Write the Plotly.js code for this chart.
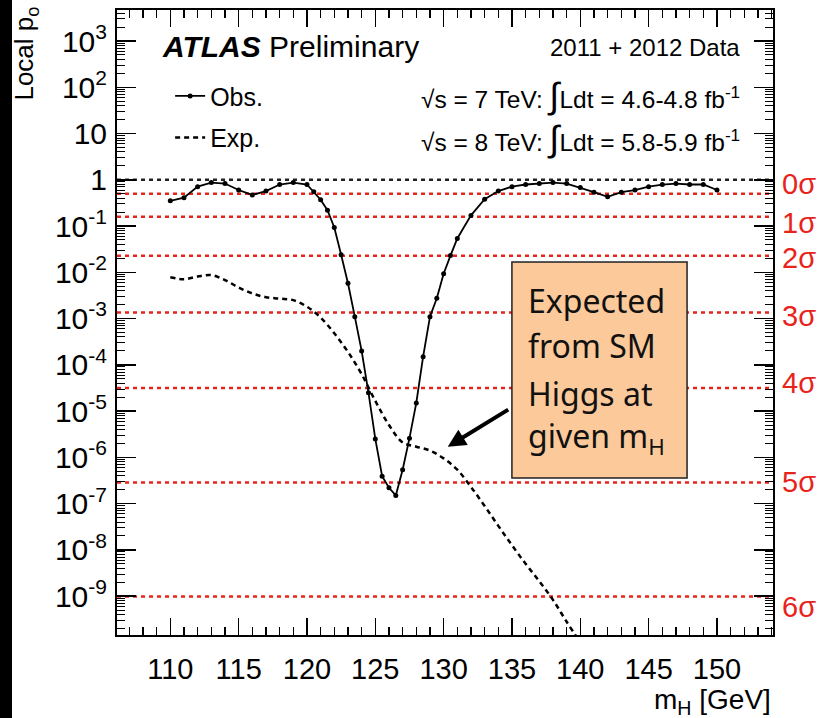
<!DOCTYPE html>
<html>
<head>
<meta charset="utf-8">
<script src="https://cdn.plot.ly/plotly-3.0.1.min.js"></script>
<style>
  html, body { margin: 0; padding: 0; }
  body { width: 821px; height: 718px; background: linear-gradient(to right, #000 12px, #fff 12px); }
  #chart { width: 821px; height: 718px; }
</style>
</head>
<body>
<div id="chart"></div>
<script>
// Observed local p0 versus Higgs mass hypothesis
const massObs = [110, 111, 112, 113, 114, 115, 116, 117, 118, 119, 120, 120.5, 121, 121.5, 122, 122.5,
  123, 123.5, 124, 124.5, 125, 125.5, 126, 126.5, 127, 127.5, 128, 128.5, 129, 129.5, 130, 130.5,
  131, 132, 133, 134, 135, 136, 137, 138, 139, 140, 141, 142, 143, 144, 145, 146, 147, 148, 149, 150];
const pObs = [0.35, 0.41, 0.71, 0.87, 0.83, 0.60, 0.47, 0.57, 0.79, 0.87, 0.79, 0.55, 0.37, 0.22, 0.093, 0.024,
  5.8e-3, 1.1e-3, 2.0e-4, 2.5e-5, 2.5e-6, 3.9e-7, 2.2e-7, 1.5e-7, 5.4e-7, 2.6e-6, 1.5e-5, 1.5e-4, 1.1e-3, 2.75e-3, 9.3e-3, 0.023,
  0.054, 0.17, 0.38, 0.57, 0.71, 0.79, 0.83, 0.87, 0.83, 0.68, 0.54, 0.43, 0.54, 0.60, 0.71, 0.79, 0.83, 0.79, 0.79, 0.60];

// Expected local p0 for a SM Higgs boson at each mass
const massExp = [110, 111, 112, 113, 114, 115, 116, 117, 118, 119, 120, 121, 122, 123, 124, 125,
  126, 127, 128, 129, 130, 131, 132, 133, 134, 135, 136, 137, 138, 139, 140];
const pExp = [7.8e-3, 7.1e-3, 8.1e-3, 8.7e-3, 6.8e-3, 4.7e-3, 3.5e-3, 2.9e-3, 2.7e-3, 2.5e-3, 1.8e-3, 1.05e-3, 4.8e-4, 1.9e-4, 6.3e-5, 1.66e-5,
  5.0e-6, 2.1e-6, 1.7e-6, 1.4e-6, 9.5e-7, 5.4e-7, 2.3e-7, 8.9e-8, 3.3e-8, 1.26e-8, 5.0e-9, 2.1e-9, 8.3e-10, 2.8e-10, 1.0e-10];

// One-sided significance levels and their p0 values
const sigmaLabels = ['0σ', '1σ', '2σ', '3σ', '4σ', '5σ', '6σ'];
const sigmaP = [0.5, 0.1587, 0.02275, 1.35e-3, 3.17e-5, 2.87e-7, 9.87e-10];

// y tick labels (decades)
const decadeExps = [-9, -8, -7, -6, -5, -4, -3, -2, -1, 0, 1, 2, 3];
const decadeText = ['10<sup>-9</sup>', '10<sup>-8</sup>', '10<sup>-7</sup>', '10<sup>-6</sup>', '10<sup>-5</sup>',
  '10<sup>-4</sup>', '10<sup>-3</sup>', '10<sup>-2</sup>', '10<sup>-1</sup>', '1', '10', '10<sup>2</sup>', '10<sup>3</sup>'];

const boxLines = ['Expected', 'from SM', 'Higgs at', 'given m<sub>H</sub>'];

const SANS = '"Liberation Sans", Arial, sans-serif';
const RED = '#e8231c';

const decadeVals = decadeExps.map(e => Math.pow(10, e));
const minorVals = [];
for (let e = -10; e <= 3; e++) for (let k = 2; k <= 9; k++) minorVals.push(k * Math.pow(10, e));

const traces = [
  {
    x: massObs, y: pObs, name: 'Obs.', type: 'scatter', mode: 'lines+markers',
    line: { color: '#000', width: 1.8 }, marker: { color: '#000', size: 5 },
    legendgroup: 'a'
  },
  {
    x: massExp, y: pExp, name: 'Exp.', type: 'scatter', mode: 'lines',
    line: { color: '#000', width: 2.5, dash: '5px,4px', shape: 'spline' },
    legendgroup: 'b'
  }
];

const shapes = [
  { type: 'line', xref: 'paper', x0: 0, x1: 1, yref: 'y', y0: 1, y1: 1,
    line: { color: '#222', width: 2.5, dash: '4px,4px' }, layer: 'below' }
].concat(sigmaP.map(p => ({
  type: 'line', xref: 'paper', x0: 0, x1: 1, yref: 'y', y0: p, y1: p,
  line: { color: RED, width: 2.5, dash: '4px,4px' }, layer: 'below'
})));

// text box
shapes.push({ type: 'rect', xref: 'paper', yref: 'paper', x0: 0.602, x1: 0.869, y0: 0.2512, y1: 0.5968,
  fillcolor: '#fbc99a', line: { color: '#222', width: 1.5 } });

const sigmaShift = [10, -6, -2, -3, 5, 0, -11];
const annotations = sigmaLabels.map((t, i) => ({
  text: t, xref: 'paper', x: 1, xshift: 7, xanchor: 'left', yref: 'y', y: Math.log10(sigmaP[i]),
  yshift: sigmaShift[i], yanchor: 'middle', showarrow: false,
  font: { family: SANS, size: 29, color: RED }
}));

const boxY = [0.536, 0.464, 0.387, 0.315];
boxLines.forEach((t, i) => annotations.push({
  text: t, xref: 'paper', yref: 'paper', x: 0.623, y: boxY[i], xanchor: 'left', yanchor: 'middle',
  showarrow: false, font: { family: '"Noto Sans", sans-serif', size: 32, color: '#111' }
}));

const bigInt = '<span style="font-size:36px">∫</span>';
annotations.push(
  { text: '', xref: 'x', yref: 'y', x: 130.3, y: -5.77, ax: 62, ay: -38, showarrow: true,
    arrowhead: 2, arrowsize: 0.9, arrowwidth: 4, arrowcolor: '#000' },
  { text: '<b><i>ATLAS</i></b> Preliminary', xref: 'paper', yref: 'paper', x: 0.0655, y: 0.942,
    xanchor: 'left', yanchor: 'middle', showarrow: false, font: { family: SANS, size: 30, color: '#000' } },
  { text: '2011 + 2012 Data', xref: 'paper', yref: 'paper', x: 0.953, y: 0.94,
    xanchor: 'right', yanchor: 'middle', showarrow: false, font: { family: SANS, size: 24, color: '#000' } },
  { text: '√s = 7 TeV: ' + bigInt + 'Ldt = 4.6-4.8 fb<sup>-1</sup>', xref: 'paper', yref: 'paper', x: 0.953, y: 0.864,
    xanchor: 'right', yanchor: 'middle', showarrow: false, font: { family: SANS, size: 24.5, color: '#000' } },
  { text: '√s = 8 TeV: ' + bigInt + 'Ldt = 5.8-5.9 fb<sup>-1</sup>', xref: 'paper', yref: 'paper', x: 0.953, y: 0.795,
    xanchor: 'right', yanchor: 'middle', showarrow: false, font: { family: SANS, size: 24.5, color: '#000' } },
  { text: 'Local p<sub>o</sub>', xref: 'paper', yref: 'paper', x: -0.139, y: 0.93, textangle: -90,
    xanchor: 'center', yanchor: 'middle', showarrow: false, font: { family: SANS, size: 26, color: '#000' } },
  { text: 'm<sub>H</sub> [GeV]', xref: 'paper', yref: 'paper', x: 1, y: -0.106,
    xanchor: 'right', yanchor: 'middle', showarrow: false, font: { family: SANS, size: 28, color: '#000' } }
);

const layout = {
  width: 821, height: 718,
  margin: { l: 117, r: 48, t: 10, b: 83 },
  paper_bgcolor: 'rgba(0,0,0,0)', plot_bgcolor: '#fff',
  showlegend: true,
  legend: { x: 0.081, y: 0.899, xanchor: 'left', yanchor: 'top', bgcolor: 'rgba(0,0,0,0)',
    font: { family: SANS, size: 25, color: '#000' }, tracegroupgap: 6, traceorder: 'grouped', itemwidth: 30 },
  xaxis: {
    range: [106.1, 154.1], tick0: 0, dtick: 5, ticks: 'inside', ticklen: 17, tickwidth: 1.5, tickcolor: '#000',
    minor: { dtick: 1, ticks: 'inside', ticklen: 8, tickwidth: 1.2, tickcolor: '#000' },
    showline: true, linecolor: '#000', linewidth: 2, mirror: 'ticks', showgrid: false, zeroline: false,
    tickfont: { family: SANS, size: 29, color: '#000' }, ticklabelstandoff: 7
  },
  yaxis: {
    type: 'log', range: [-9.84, 3.67], tickmode: 'array', tickvals: decadeVals, ticktext: decadeText,
    ticks: 'inside', ticklen: 19, tickwidth: 1.5, tickcolor: '#000',
    minor: { tickmode: 'array', tickvals: minorVals, ticks: 'inside', ticklen: 8, tickwidth: 1, tickcolor: '#000' },
    showline: true, linecolor: '#000', linewidth: 2, mirror: 'ticks', showgrid: false, zeroline: false,
    tickfont: { family: SANS, size: 30, color: '#000' }, ticklabelstandoff: 2
  },
  shapes: shapes,
  annotations: annotations
};

Plotly.newPlot('chart', traces, layout, { displayModeBar: false, staticPlot: true });
</script>
</body>
</html>
